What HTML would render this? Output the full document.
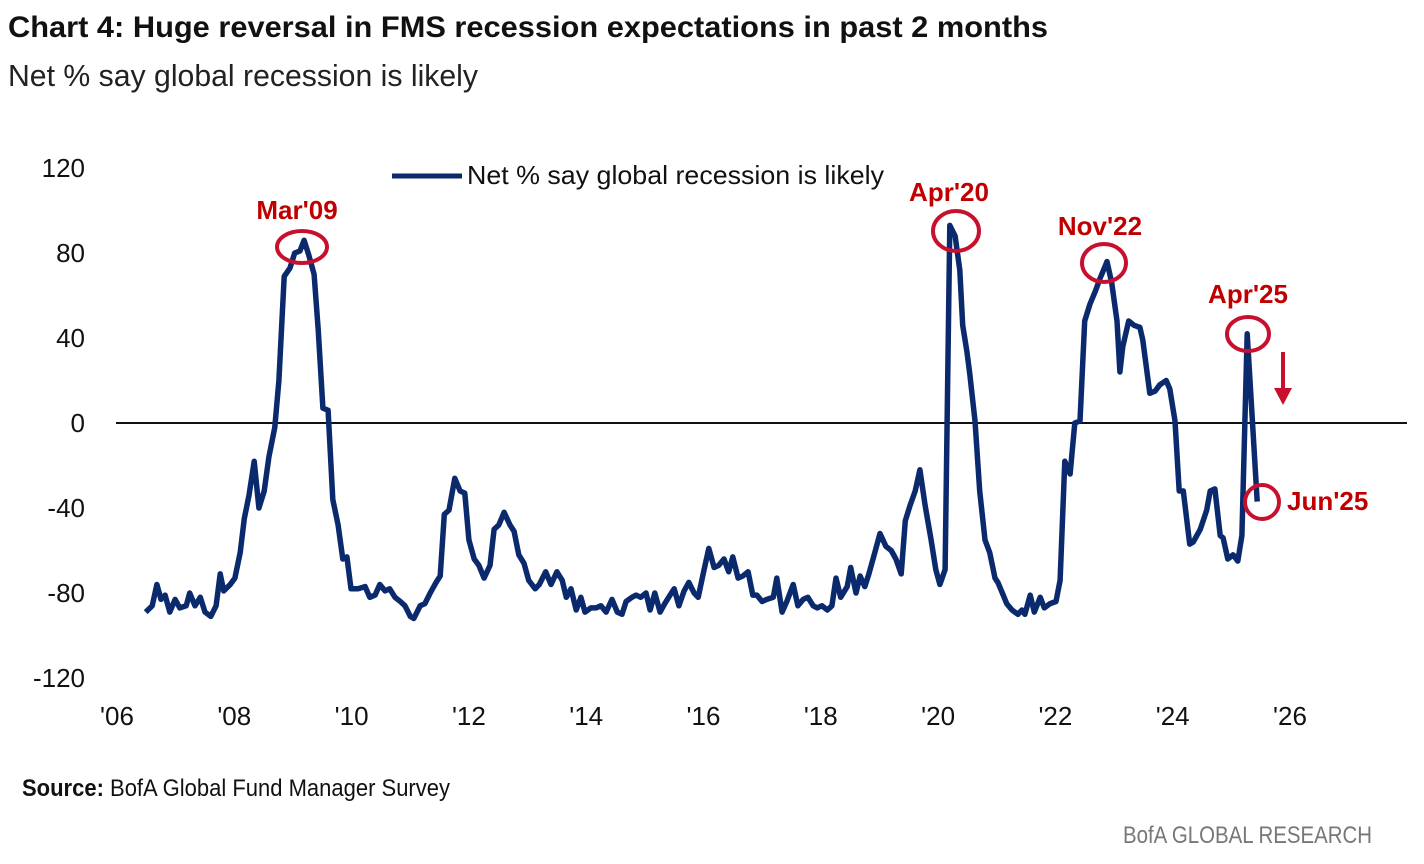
<!DOCTYPE html>
<html><head><meta charset="utf-8"><style>
html,body{margin:0;padding:0;background:#fff;width:1424px;height:864px;overflow:hidden}
svg{display:block;font-family:"Liberation Sans Narrow","Liberation Sans",sans-serif}
</style></head><body>
<svg id="chart" width="1424" height="864" viewBox="0 0 1424 864" xmlns="http://www.w3.org/2000/svg">
<text x="8" y="37" font-size="30" font-weight="bold" fill="#111" textLength="1040" lengthAdjust="spacingAndGlyphs">Chart 4: Huge reversal in FMS recession expectations in past 2 months</text>
<text x="8" y="86" font-size="31" fill="#222" textLength="470" lengthAdjust="spacingAndGlyphs">Net % say global recession is likely</text>
<g id="yaxis"></g>
<g id="xaxis"></g>
<line x1="116" y1="423" x2="1407" y2="423" stroke="#111" stroke-width="2"/>
<g>
<line x1="392" y1="176" x2="462" y2="176" stroke="#0b2a6e" stroke-width="5"/>
<text x="467" y="184" font-size="26" fill="#111" textLength="417" lengthAdjust="spacingAndGlyphs">Net % say global recession is likely</text>
</g>
<path id="series" fill="none" stroke="#0b2a6e" stroke-width="5.5" stroke-linejoin="round"/>
<g id="annot" fill="#c00000" font-weight="bold" font-size="26">
<text x="297" y="219" text-anchor="middle">Mar'09</text>
<ellipse cx="302" cy="247" rx="25" ry="16" fill="none" stroke="#c8102e" stroke-width="4"/>
<text x="949" y="201" text-anchor="middle">Apr'20</text>
<ellipse cx="956" cy="231" rx="23" ry="20" fill="none" stroke="#c8102e" stroke-width="4"/>
<text x="1100" y="235" text-anchor="middle">Nov'22</text>
<ellipse cx="1104" cy="263" rx="22" ry="19" fill="none" stroke="#c8102e" stroke-width="4"/>
<text x="1248" y="303" text-anchor="middle">Apr'25</text>
<ellipse cx="1248" cy="334" rx="21" ry="17" fill="none" stroke="#c8102e" stroke-width="4"/>
<ellipse cx="1262" cy="502" rx="17" ry="17" fill="none" stroke="#c8102e" stroke-width="4"/>
<text x="1287" y="510">Jun'25</text>
<line x1="1283" y1="352" x2="1283" y2="390" stroke="#c8102e" stroke-width="4"/>
<polygon points="1274,388 1292,388 1283,405" fill="#c8102e"/>
</g>
<text x="22" y="796" font-size="24" fill="#111" textLength="428" lengthAdjust="spacingAndGlyphs"><tspan font-weight="bold">Source:</tspan> BofA Global Fund Manager Survey</text>
<text x="1123" y="843" font-size="24" fill="#777" textLength="249" lengthAdjust="spacingAndGlyphs">BofA GLOBAL RESEARCH</text>
</svg>
<script>
const yTicks = [120, 80, 40, 0, -40, -80, -120];
const yTickLabels = ["120", "80", "40", "0", "-40", "-80", "-120"];
const xTicks = [2006, 2008, 2010, 2012, 2014, 2016, 2018, 2020, 2022, 2024, 2026];
const xTickLabels = ["'06", "'08", "'10", "'12", "'14", "'16", "'18", "'20", "'22", "'24", "'26"];
const yearsSince2006 = [0.49,0.60,0.68,0.75,0.82,0.90,0.99,1.07,1.18,1.24,1.33,1.42,1.50,1.60,1.69,1.76,1.82,1.93,2.01,2.10,2.17,2.25,2.34,2.42,2.51,2.59,2.69,2.76,2.85,2.95,3.03,3.12,3.19,3.27,3.36,3.43,3.51,3.60,3.68,3.77,3.85,3.92,3.99,4.11,4.23,4.31,4.40,4.48,4.57,4.65,4.74,4.83,4.91,5.00,5.06,5.17,5.25,5.34,5.44,5.51,5.58,5.66,5.76,5.85,5.93,6.00,6.09,6.17,6.26,6.36,6.43,6.51,6.60,6.70,6.77,6.85,6.94,7.02,7.13,7.20,7.31,7.40,7.50,7.59,7.66,7.74,7.83,7.91,7.98,8.08,8.17,8.25,8.34,8.44,8.53,8.61,8.68,8.78,8.85,8.93,9.02,9.09,9.17,9.26,9.34,9.43,9.50,9.58,9.67,9.75,9.84,9.91,10.01,10.09,10.18,10.26,10.35,10.43,10.50,10.59,10.67,10.76,10.84,10.91,11.00,11.08,11.19,11.25,11.34,11.42,11.53,11.61,11.70,11.78,11.87,11.94,12.02,12.11,12.19,12.26,12.34,12.45,12.51,12.60,12.67,12.75,12.82,12.92,13.01,13.11,13.20,13.28,13.37,13.44,13.52,13.61,13.69,13.78,13.88,13.96,14.03,14.12,14.20,14.29,14.37,14.42,14.49,14.54,14.63,14.71,14.80,14.88,14.97,15.02,15.11,15.17,15.26,15.36,15.43,15.48,15.57,15.64,15.74,15.81,15.91,16.01,16.08,16.16,16.25,16.33,16.42,16.50,16.59,16.68,16.76,16.85,16.88,16.96,17.05,17.10,17.15,17.25,17.34,17.44,17.49,17.61,17.70,17.78,17.89,17.95,18.04,18.11,18.18,18.29,18.35,18.47,18.58,18.64,18.72,18.81,18.86,18.94,19.03,19.11,19.18,19.27,19.44];
const netPct = [-89,-86,-76,-83,-81,-89,-83,-87,-86,-80,-86,-82,-89,-91,-86,-71,-79,-76,-73,-61,-45,-34,-18,-40,-32,-16,-2,20,69,73,80,81,86,79,70,44,7,6,-36,-48,-64,-63,-78,-78,-77,-82,-81,-76,-79,-78,-82,-84,-86,-91,-92,-86,-85,-80,-75,-72,-43,-41,-26,-32,-33,-55,-64,-67,-73,-67,-50,-48,-42,-48,-51,-62,-66,-74,-78,-76,-70,-76,-70,-74,-82,-78,-88,-82,-89,-87,-87,-86,-89,-83,-89,-90,-84,-82,-81,-82,-80,-88,-80,-89,-85,-81,-78,-86,-79,-75,-80,-82,-69,-59,-68,-67,-64,-70,-63,-73,-72,-70,-81,-81,-84,-83,-82,-73,-89,-84,-76,-86,-83,-82,-86,-87,-86,-88,-86,-73,-82,-77,-68,-80,-72,-77,-71,-61,-52,-58,-60,-64,-71,-46,-39,-32,-22,-39,-55,-69,-76,-69,93,88,72,46,34,23,1,-32,-55,-61,-73,-75,-81,-85,-88,-90,-88,-90,-81,-89,-82,-87,-85,-84,-74,-18,-24,0,1,48,56,62,68,74,76,66,48,24,36,48,46,45,39,14,15,18,20,16,1,-32,-32,-57,-56,-50,-41,-32,-31,-53,-54,-64,-62,-65,-53,42,-37];

const NS = "http://www.w3.org/2000/svg";
function xScale(year){ return 117 + (year - 2006) * 58.65; }
function yScale(v){ return 423 - v * 2.125; }

const yAxis = document.getElementById('yaxis');
yTicks.forEach((v, i) => {
  const t = document.createElementNS(NS, 'text');
  
  
  t.setAttribute('x', 85); t.setAttribute('y', yScale(v) + 9);
  t.setAttribute('text-anchor', 'end'); t.setAttribute('font-size', '26'); t.setAttribute('fill', '#111');
  t.textContent = yTickLabels[i];
  yAxis.appendChild(t);
});
const xAxis = document.getElementById('xaxis');
xTicks.forEach((yr, i) => {
  const t = document.createElementNS(NS, 'text');
  
  
  t.setAttribute('x', xScale(yr)); t.setAttribute('y', 725);
  t.setAttribute('text-anchor', 'middle'); t.setAttribute('font-size', '26'); t.setAttribute('fill', '#111');
  t.textContent = xTickLabels[i];
  xAxis.appendChild(t);
});
let d = '';
for (let i = 0; i < netPct.length; i++) {
  d += (i ? 'L' : 'M') + xScale(2006 + yearsSince2006[i]).toFixed(1) + ',' + yScale(netPct[i]).toFixed(1);
}
document.getElementById('series').setAttribute('d', d);
</script>
</body></html>
